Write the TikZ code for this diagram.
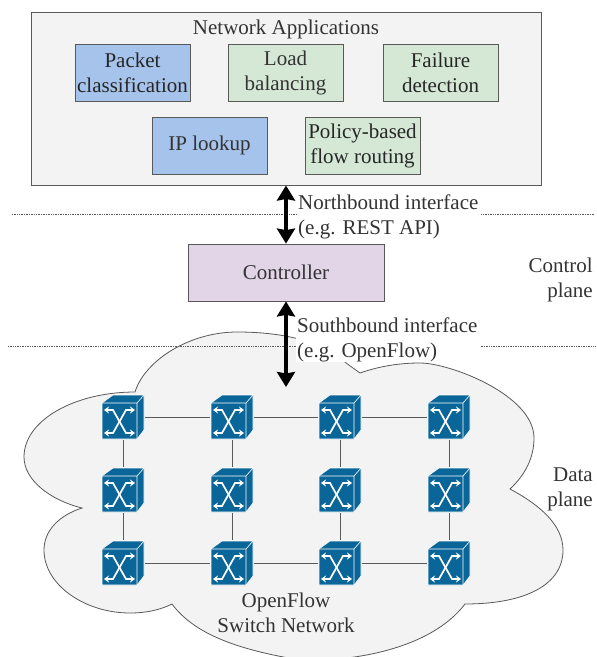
\documentclass[tikz,border=0pt]{standalone}
\usepackage{fontspec}
\setmainfont{Liberation Serif}
\usetikzlibrary{arrows.meta}
\definecolor{appgrey}{HTML}{F3F3F3}
\definecolor{appblue}{HTML}{A6C3EB}
\definecolor{appgreen}{HTML}{D5E8D5}
\definecolor{ctrlpurple}{HTML}{E1D5E7}
\definecolor{switchblue}{HTML}{0A6699}
\definecolor{linegrey}{HTML}{595959}
\definecolor{textgrey}{HTML}{333333}
\tikzset{
  every node/.style={font=\fontsize{21}{25}\selectfont, text=textgrey, align=center, inner sep=0pt},
  appbox/.style={draw=linegrey, line width=0.8pt, minimum width=115pt, minimum height=57pt},
  bigarrow/.style={line width=4.2pt, black, {Stealth[width=18pt,length=15pt,inset=1.5pt]}-{Stealth[width=18pt,length=15pt,inset=1.5pt]}},
  planeline/.style={densely dotted, line width=0.7pt, linegrey},
  link/.style={line width=0.8pt, linegrey},
  iflabel/.style={fill=white, align=flush left, anchor=west, inner xsep=1pt, text width=182pt},
  switchbox/.style={minimum width=44pt, minimum height=46pt, path picture={
    \begin{scope}[shift={(path picture bounding box.center)}]
      \draw[white, line width=0.6pt, fill=switchblue] (-21,-14) -- (-10,-22) -- (21,-22) -- (21,13) -- (14,22) -- (-21,22) -- cycle;
      \draw[white, line width=0.6pt] (-21,-14) -- (14,-14) -- (21,-22) (14,-14) -- (14,22);
      \draw[white, line width=1.7pt, {Stealth[width=7pt,length=5pt]}-{Stealth[width=7pt,length=5pt]}] (-19,-7) -- (-10,-7) -- (3,16) -- (12,16);
      \draw[white, line width=1.7pt, {Stealth[width=7pt,length=5pt]}-{Stealth[width=7pt,length=5pt]}] (12,-7) -- (3,-7) -- (-10,16) -- (-19,16);
    \end{scope}}},
}
\begin{document}
\begin{tikzpicture}[x=1pt,y=-1pt]
    \useasboundingbox (0,0) rectangle (597,657);
    % cloud behind the switches
    \draw[line width=0.8pt, linegrey, fill=appgrey]
        (135,392) .. controls (75,392) and (24,420) .. (24,457)
        .. controls (24,480) and (50,500) .. (82,508)
        .. controls (60,515) and (44,530) .. (44,550)
        .. controls (44,585) and (85,613) .. (130,613)
        .. controls (146,613) and (160,610) .. (172,604)
        .. controls (195,635) and (240,650) .. (300,660)
        .. controls (350,662) and (430,650) .. (465,604)
        .. controls (525,604) and (563,585) .. (563,550)
        .. controls (563,525) and (540,505) .. (510,489)
        .. controls (525,475) and (534,458) .. (534,438)
        .. controls (534,395) and (450,363) .. (420,363)
        .. controls (400,363) and (380,366) .. (360,373)
        .. controls (353,368) and (346,363) .. (345,362)
        .. controls (320,340) and (280,332) .. (237,332)
        .. controls (190,332) and (145,360) .. (135,392) -- cycle;
    % plane separators
    \coordinate (northL) at (12,214);
    \coordinate (northR) at (595,214);
    \coordinate (southL) at (8,346);
    \coordinate (southR) at (595,346);
    \draw[planeline] (northL) to (northR);
    \draw[planeline] (southL) to (southR);
    % applications
    \node[draw=linegrey, line width=1pt, fill=appgrey, minimum width=510pt, minimum height=173pt] (apps) at (286,98.5) {};
    \node (appsT) at (286,29.5) {Network Applications};
    \node[appbox, fill=appblue, text=black!85] (packet) at (132.5,73) {Packet\\classification};
    \node[appbox, fill=appgreen] (load) at (285.5,73) {Load\\balancing};
    \node[appbox, fill=appgreen, text=black!85] (failure) at (440.5,73) {Failure\\detection};
    \node[appbox, fill=appblue] (lookup) at (209.5,145.5) {IP lookup};
    \node[appbox, fill=appgreen, text=black!85] (policy) at (362.5,145.5) {Policy-based\\flow routing};
    % controller
    \node[draw=linegrey, line width=0.8pt, fill=ctrlpurple, minimum width=196pt, minimum height=57pt] (ctrl) at (286,272.5) {Controller};
    % interface labels
    \node[iflabel] (north) at (297,217) {Northbound interface\\(e.g. REST API)};
    \node[iflabel] (south) at (296,340) {Southbound interface\\(e.g. OpenFlow)};
    \coordinate (swtop) at (286,387);
    \draw[bigarrow] (apps) to (ctrl);
    \draw[bigarrow] (ctrl) to (swtop);
    % plane names
    \node[align=right, anchor=east] (cplane) at (593,280) {Control\\plane};
    \node[align=right, anchor=east] (dplane) at (593,489.5) {Data\\plane};
    \node (ofnet) at (286,612.5) {OpenFlow\\Switch Network};
    % switches
    \node[switchbox] (s11) at (123,417) {};
    \node[switchbox] (s12) at (232,417) {};
    \node[switchbox] (s13) at (340,417) {};
    \node[switchbox] (s14) at (449,417) {};
    \node[switchbox] (s21) at (123,490) {};
    \node[switchbox] (s22) at (232,490) {};
    \node[switchbox] (s23) at (340,490) {};
    \node[switchbox] (s24) at (449,490) {};
    \node[switchbox] (s31) at (123,563) {};
    \node[switchbox] (s32) at (232,563) {};
    \node[switchbox] (s33) at (340,563) {};
    \node[switchbox] (s34) at (449,563) {};
    \draw[link] (s11) to (s12);
    \draw[link] (s12) to (s13);
    \draw[link] (s13) to (s14);
    \draw[link] (s31) to (s32);
    \draw[link] (s32) to (s33);
    \draw[link] (s33) to (s34);
    \draw[link] (s11) to (s21);
    \draw[link] (s21) to (s31);
    \draw[link] (s12) to (s22);
    \draw[link] (s22) to (s32);
    \draw[link] (s13) to (s23);
    \draw[link] (s23) to (s33);
    \draw[link] (s14) to (s24);
    \draw[link] (s24) to (s34);
\end{tikzpicture}
\end{document}
